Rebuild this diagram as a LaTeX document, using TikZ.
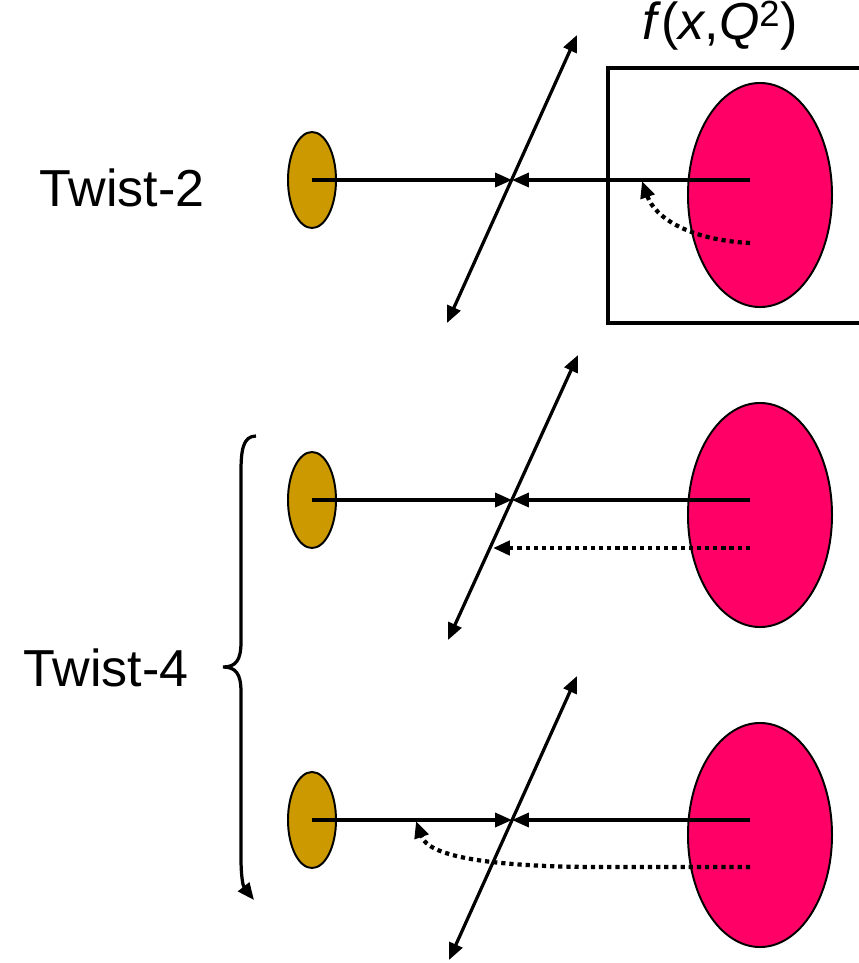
\documentclass[tikz,border=0pt]{standalone}
\usepackage{fontspec}
\setmainfont{Liberation Sans}
\usetikzlibrary{arrows.meta, shapes.geometric}
\definecolor{quarkgold}{RGB}{204,153,0}
\definecolor{hadronpink}{RGB}{255,0,102}

\begin{document}
\begin{tikzpicture}[x=0.025cm, y=-0.025cm, line width=2.3pt,
		>={Triangle[length=12pt, width=10pt]},
		every node/.style={font=\fontsize{37}{44}\selectfont},
		quark/.style={ellipse, draw, line width=1.4pt, fill=quarkgold, minimum width=1.2cm, minimum height=2.4cm, inner sep=0pt},
		hadron/.style={ellipse, draw, line width=1.4pt, fill=hadronpink, minimum width=3.6cm, minimum height=5.6cm, inner sep=0pt},
		dotline/.style={line width=3pt, dash pattern=on 3pt off 2.8pt}]
				\useasboundingbox (0,0) rectangle (859,963);

				% twist-2
				\node[hadron] (had1) at (760,195) {};
				\node[quark] (q1) at (312,180) {};
				\coordinate (v1) at (512,180);
				\coordinate (s1) at (750,180);
				\coordinate (lo1) at (447,323);
				\coordinate (hi1) at (577,35);
				\coordinate (d1) at (750,243);
				\coordinate (e1) at (642,181);
				\draw[<->] (lo1) -- (hi1);
				\draw[->] (q1.center) -- (v1);
				\draw[->] (s1) -- (v1);
				\draw[->, dotline] (d1) .. controls (690,240) and (655,218) .. (e1);
				\draw[line width=3pt] (608,68) rectangle (866,323);
				\node (pdf) at (720,26) {\textit{f}(\textit{x},\textit{Q}\textsuperscript{2})};
				\node (tw2) at (122,188) {Twist-2};

				% twist-4, first
				\node[hadron] (had2) at (760,515) {};
				\node[quark] (q2) at (312,500) {};
				\coordinate (v2) at (512,500);
				\coordinate (s2) at (750,500);
				\coordinate (lo2) at (448,640);
				\coordinate (hi2) at (578,355);
				\coordinate (d2) at (750,548);
				\coordinate (e2) at (493,548);
				\draw[<->] (lo2) -- (hi2);
				\draw[->] (q2.center) -- (v2);
				\draw[->] (s2) -- (v2);
				\draw[->, dotline] (d2) -- (e2);

				% twist-4, second
				\node[hadron] (had3) at (760,835) {};
				\node[quark] (q3) at (312,820) {};
				\coordinate (v3) at (512,820);
				\coordinate (s3) at (750,820);
				\coordinate (lo3) at (449,960);
				\coordinate (hi3) at (577,676);
				\coordinate (d3) at (750,867);
				\coordinate (e3) at (416,821);
				\draw[<->] (lo3) -- (hi3);
				\draw[->] (q3.center) -- (v3);
				\draw[->] (s3) -- (v3);
				\draw[->, dotline] (d3) -- (590,867) .. controls (480,866) and (428,855) .. (e3);

				% brace
				\coordinate (bt) at (256,436);
				\coordinate (bb) at (254,900);
				\draw[->] (bt) .. controls (243,436) and (241,450) .. (241,472) -- (241,642)
				.. controls (241,660) and (236,667) .. (223,667)
				.. controls (236,667) and (241,674) .. (241,692) -- (241,858)
				.. controls (241,876) and (243,886) .. (bb);
				\node (tw4) at (106,668) {Twist-4};
\end{tikzpicture}
\end{document}
